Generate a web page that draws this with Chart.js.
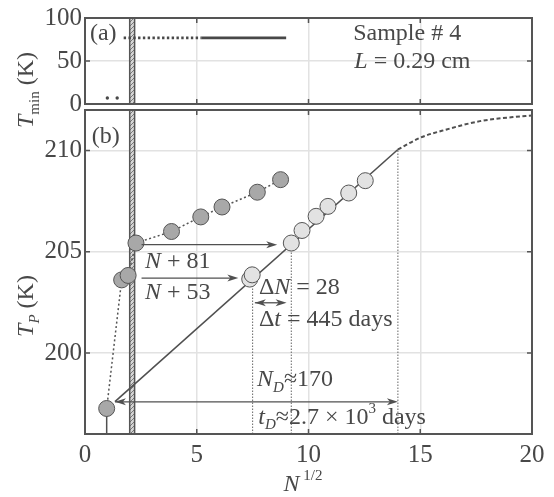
<!DOCTYPE html>
<html>
<head>
<meta charset="utf-8">
<script src="https://cdn.jsdelivr.net/npm/chart.js@4.4.1/dist/chart.umd.min.js"></script>
<style>
  body { margin: 0; background: #fff; }
  #wrap { position: relative; width: 554px; height: 497px; }
  #wrap canvas { position: absolute; left: 0; top: 0; }
</style>
</head>
<body>
<div id="wrap">
  <canvas id="panel-a" width="554" height="497"></canvas>
  <canvas id="panel-b" width="554" height="497"></canvas>
</div>
<script>
const xTicks = [0, 5, 10, 15, 20];
const yTicksA = [0, 50, 100];
const yTicksB = [200, 205, 210];

// (a) T_min per cycle
const tminLowX = [1.0, 1.44];
const tminLowY = [7, 7];
const tminPlateauX = [1.73, 5.2, 9.0];
const tminPlateauY = [77, 77, 77];

// (b) T_P vs N^1/2
const sampleX = [0.97, 1.64, 1.93, 2.28, 3.87, 5.18, 6.13, 7.71, 8.75];
const sampleY = [197.26, 203.61, 203.83, 205.43, 206.0, 206.72, 207.21, 207.94, 208.56];
const shiftedX = [7.37, 7.48, 9.23, 9.71, 10.34, 10.87, 11.8, 12.54];
const shiftedY = [203.65, 203.86, 205.43, 206.05, 206.75, 207.24, 207.9, 208.51];
const fitX = [1.34, 14.0];
const fitY = [197.6, 210.05];
const extrapX = [14.0, 15.0, 16.18, 17.67, 19.15, 20.0];
const extrapY = [210.05, 210.63, 211.04, 211.45, 211.65, 211.73];
const guideX = [7.5, 9.23, 14.0];
const guideTop = [203.7, 205.43, 210.05];

const bandX = [2.0, 2.22];

const INK = '#484848';
const GRID = '#e2e2e2';
const SERIF = '"Liberation Serif", serif';
Chart.defaults.font.family = SERIF;
Chart.defaults.color = INK;

const pts = (xs, ys) => xs.map((x, i) => ({ x: x, y: ys[i] }));

function drawRich(ctx, parts, x, y, size, align) {
    const fonts = parts.map(p => {
        const s = (p.sub || p.sup) ? Math.round(size * 0.62) : size;
        return (p.italic ? 'italic ' : '') + s + 'px ' + SERIF;
    });
    let w = 0;
    parts.forEach((p, i) => { ctx.font = fonts[i]; w += ctx.measureText(p.t).width; });
    let cx = align === 'center' ? x - w / 2 : (align === 'right' ? x - w : x);
    ctx.textAlign = 'left';
    ctx.textBaseline = 'middle';
    ctx.fillStyle = INK;
    parts.forEach((p, i) => {
        ctx.font = fonts[i];
        const dy = p.sub ? size * 0.32 : (p.sup ? -size * 0.38 : 0);
        ctx.fillText(p.t, cx, y + dy);
        cx += ctx.measureText(p.t).width;
    });
}

function drawRotated(ctx, parts, x, y, size) {
    ctx.save();
    ctx.translate(x, y);
    ctx.rotate(-Math.PI / 2);
    drawRich(ctx, parts, 0, 0, size, 'center');
    ctx.restore();
}

function hatchPattern(ctx) {
    const c = document.createElement('canvas');
    c.width = 4; c.height = 4;
    const g = c.getContext('2d');
    g.fillStyle = '#d6d6d6';
    g.fillRect(0, 0, 4, 4);
    g.strokeStyle = '#7a7a7a';
    g.lineWidth = 1;
    g.beginPath(); g.moveTo(0, 4); g.lineTo(4, 0); g.stroke();
    return ctx.createPattern(c, 'repeat');
}

function arrowHead(ctx, x, y, dir) {
    ctx.beginPath();
    ctx.moveTo(x, y);
    ctx.lineTo(x - dir * 11, y - 3.5);
    ctx.lineTo(x - dir * 8, y);
    ctx.lineTo(x - dir * 11, y + 3.5);
    ctx.closePath();
    ctx.fill();
}

// band + frame + inner ticks, shared by both panels
const framePlugin = {
    id: 'frame',
    beforeDatasetsDraw(chart) {
        const { ctx, chartArea: a, scales } = chart;
        const x0 = scales.x.getPixelForValue(bandX[0]);
        const x1 = scales.x.getPixelForValue(bandX[1]);
        ctx.save();
        ctx.fillStyle = hatchPattern(ctx);
        ctx.fillRect(x0, a.top, x1 - x0, a.bottom - a.top);
        ctx.strokeStyle = '#555';
        ctx.lineWidth = 1.5;
        ctx.beginPath();
        ctx.moveTo(x0, a.top); ctx.lineTo(x0, a.bottom);
        ctx.moveTo(x1, a.top); ctx.lineTo(x1, a.bottom);
        ctx.stroke();
        ctx.restore();
    },
    afterDraw(chart) {
        const { ctx, chartArea: a, scales } = chart;
        ctx.save();
        ctx.strokeStyle = '#555';
        ctx.lineWidth = 1.5;
        ctx.beginPath();
        scales.x.ticks.forEach(t => {
            const px = scales.x.getPixelForValue(t.value);
            ctx.moveTo(px, a.top); ctx.lineTo(px, a.top + 5);
            ctx.moveTo(px, a.bottom); ctx.lineTo(px, a.bottom - 5);
        });
        scales.y.ticks.forEach(t => {
            const py = scales.y.getPixelForValue(t.value);
            ctx.moveTo(a.left, py); ctx.lineTo(a.left + 5, py);
            ctx.moveTo(a.right, py); ctx.lineTo(a.right - 5, py);
        });
        ctx.stroke();
        ctx.lineWidth = 2;
        ctx.strokeRect(a.left, a.top, a.right - a.left, a.bottom - a.top);
        ctx.restore();
    }
};

function axisOptions(yMin, yMax, yTicks, xHeight, showX) {
    return {
        x: {
            type: 'linear', min: 0, max: 20,
            afterBuildTicks: s => { s.ticks = xTicks.map(v => ({ value: v })); },
            afterFit: s => { s.height = xHeight; },
            grid: { color: GRID, lineWidth: 1.5, drawTicks: false },
            border: { display: false },
            ticks: { display: showX, padding: 6, color: INK, font: { size: 25 } }
        },
        y: {
            type: 'linear', min: yMin, max: yMax,
            afterBuildTicks: s => { s.ticks = yTicks.map(v => ({ value: v })); },
            afterFit: s => { s.width = 85; },
            grid: { color: GRID, lineWidth: 1.5, drawTicks: false },
            border: { display: false },
            ticks: { padding: 3, color: INK, font: { size: 25 } }
        }
    };
}

// panel (a)
new Chart(document.getElementById('panel-a'), {
    type: 'scatter',
    data: {
        datasets: [{
            data: pts(tminLowX, tminLowY),
            pointRadius: 1.7, pointBackgroundColor: INK, pointBorderWidth: 0
        }, {
            data: pts(tminPlateauX, tminPlateauY),
            showLine: true, pointRadius: 0, borderColor: INK, borderWidth: 2.8,
            segment: { borderDash: c => c.p0DataIndex === 0 ? [2.4, 2.4] : [] }
        }]
    },
    options: {
        responsive: false, animation: false, events: [],
        layout: { padding: { top: 17, right: 22, bottom: 393, left: 0 } },
        plugins: { legend: { display: false }, tooltip: { enabled: false } },
        scales: axisOptions(0, 100, yTicksA, 0, false)
    },
    plugins: [framePlugin, {
        id: 'labelsA',
        afterDraw(chart) {
            const { ctx, scales } = chart;
            const X = v => scales.x.getPixelForValue(v);
            const Y = v => scales.y.getPixelForValue(v);
            drawRich(ctx, [{ t: '(a)' }], X(0.22), Y(81.6), 24, 'left');
            drawRich(ctx, [{ t: 'Sample # 4' }], X(12.0), Y(81.6), 24, 'left');
            drawRich(ctx, [{ t: 'L', italic: true }, { t: ' = 0.29 cm' }], X(12.05), Y(49.4), 24, 'left');
            drawRotated(ctx, [{ t: 'T', italic: true }, { t: 'min', sub: true }, { t: ' (K)' }], 27, 90, 24);
        }
    }]
});

// panel (b)
const guideSets = guideX.map((gx, i) => ({
    data: pts([gx, gx], [196, guideTop[i]]),
    showLine: true, pointRadius: 0, borderColor: '#666', borderWidth: 1,
    borderDash: [1.5, 1.5], order: 5
}));

new Chart(document.getElementById('panel-b'), {
    type: 'scatter',
    data: {
        datasets: [{
            data: pts(sampleX, sampleY),
            showLine: true, borderColor: '#555', borderWidth: 1.5, borderDash: [2, 2.5],
            pointRadius: 8, pointBackgroundColor: '#a8a8a8', pointBorderColor: '#555', pointBorderWidth: 1,
            order: 1
        }, {
            data: pts(shiftedX, shiftedY),
            pointRadius: 8, pointBackgroundColor: '#e2e2e2', pointBorderColor: '#555', pointBorderWidth: 1,
            order: 0
        }, {
            data: pts(fitX, fitY),
            showLine: true, pointRadius: 0, borderColor: '#505050', borderWidth: 1.6, order: 3
        }, {
            data: pts(extrapX, extrapY),
            showLine: true, pointRadius: 0, borderColor: '#505050', borderWidth: 2,
            borderDash: [4, 2.5], cubicInterpolationMode: 'monotone', order: 3
        }, {
            data: pts([sampleX[0], sampleX[0]], [196, sampleY[0]]),
            showLine: true, pointRadius: 0, borderColor: '#505050', borderWidth: 1.5, order: 4
        }, ...guideSets]
    },
    options: {
        responsive: false, animation: false, events: [],
        layout: { padding: { top: 110, right: 22, bottom: 0, left: 0 } },
        plugins: { legend: { display: false }, tooltip: { enabled: false } },
        scales: axisOptions(196, 212, yTicksB, 63, true)
    },
    plugins: [framePlugin, {
        id: 'labelsB',
        afterDraw(chart) {
            const { ctx, scales } = chart;
            const X = v => scales.x.getPixelForValue(v);
            const Y = v => scales.y.getPixelForValue(v);
            // arrows: from, to, level, double-headed
            const arrows = [
                [2.53, 8.6, 205.35, false],
                [2.53, 6.86, 203.7, false],
                [7.6, 9.02, 202.48, true],
                [1.34, 14.0, 197.59, true]
            ];
            ctx.save();
            ctx.strokeStyle = '#505050';
            ctx.fillStyle = '#505050';
            ctx.lineWidth = 1.3;
            arrows.forEach(([a, b, y, both]) => {
                const x1 = X(a), x2 = X(b), py = Y(y);
                ctx.beginPath(); ctx.moveTo(x1, py); ctx.lineTo(x2 - 4, py); ctx.stroke();
                arrowHead(ctx, x2, py, 1);
                if (both) arrowHead(ctx, x1, py, -1);
            });
            ctx.restore();
            drawRich(ctx, [{ t: '(b)' }], X(0.3), Y(210.69), 24, 'left');
            drawRich(ctx, [{ t: 'N', italic: true }, { t: ' + 81' }], X(2.68), Y(204.52), 24, 'left');
            drawRich(ctx, [{ t: 'N', italic: true }, { t: ' + 53' }], X(2.68), Y(202.97), 24, 'left');
            drawRich(ctx, [{ t: 'Δ' }, { t: 'N', italic: true }, { t: ' = 28' }], X(7.78), Y(203.22), 24, 'left');
            drawRich(ctx, [{ t: 'Δ' }, { t: 't', italic: true }, { t: ' = 445 days' }], X(7.78), Y(201.63), 24, 'left');
            drawRich(ctx, [{ t: 'N', italic: true }, { t: 'D', italic: true, sub: true }, { t: '≈170' }], X(7.7), Y(198.66), 24, 'left');
            drawRich(ctx, [{ t: 't', italic: true }, { t: 'D', italic: true, sub: true }, { t: '≈2.7 × 10' }, { t: '3', sup: true }, { t: ' days' }], X(7.75), Y(196.8), 24, 'left');
            drawRotated(ctx, [{ t: 'T', italic: true }, { t: 'P', italic: true, sub: true }, { t: ' (K)' }], 27, 306, 24);
            drawRich(ctx, [{ t: 'N', italic: true }, { t: ' 1/2', sup: true }], 303, 485, 24, 'center');
        }
    }]
});
</script>
</body>
</html>
